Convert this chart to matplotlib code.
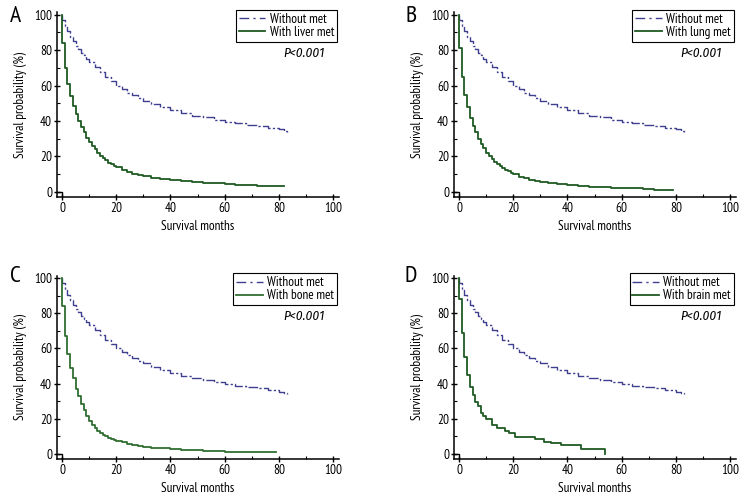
import matplotlib
matplotlib.use('Agg')
import matplotlib.pyplot as plt
from matplotlib.ticker import MultipleLocator
from matplotlib.lines import Line2D

plt.rcParams['font.family'] = ['PT Sans Narrow', 'Fira Sans Condensed', 'Cabin Condensed', 'DejaVu Sans']
italic_family = ['Fira Sans Condensed', 'Asap Condensed', 'Barlow Condensed', 'DejaVu Sans']

panel_labels = ['A', 'B', 'C', 'D']
met_labels = ['With liver met', 'With lung met', 'With bone met', 'With brain met']
ref_label = 'Without met'
p_text = 'P<0.001'
x_label = 'Survival months'
y_label = 'Survival probability (%)'
x_ticks = [0, 20, 40, 60, 80, 100]
y_ticks = [0, 20, 40, 60, 80, 100]

# "Without met" reference curve (months, survival %)
without_t = [0, 0, 1, 2, 3, 4, 5, 6, 7, 8, 9, 10, 12, 14, 16, 18, 20, 22, 24, 26, 28,
             30, 33, 36, 40, 44, 48, 52, 56, 60, 64, 68, 72, 76, 80, 82, 83]
without_s = [100, 97, 93.5, 90.5, 87.5, 85, 82.5, 80.5, 78.5, 77, 75, 73.5, 70.5, 67.5,
             65, 62.5, 60, 58, 56, 54.5, 53, 51.5, 49.5, 48, 46.2, 44.5, 43, 42, 40.7,
             39.5, 38.7, 38, 37.3, 36.3, 35.5, 34.5, 33.8]

# With metastasis curves
liver_t = [0, 0, 1, 2, 3, 4, 5, 6, 7, 8, 9, 10, 11, 12, 13, 14, 15, 16, 17, 18, 19, 20,
           22, 24, 26, 28, 30, 33, 36, 40, 44, 48, 52, 56, 60, 64, 68, 72, 76, 80, 82]
liver_s = [100, 84, 70, 61, 54, 48.5, 44, 40, 36.5, 33.5, 30.5, 28, 26, 24, 22, 20.5, 19,
           17.8, 16.5, 15.5, 14.6, 13.8, 12.5, 11.3, 10.3, 9.5, 8.8, 8, 7.3, 6.7, 6.1, 5.6,
           5.2, 4.8, 4.4, 4.1, 3.8, 3.5, 3.4, 3.3, 3.3]

lung_t = [0, 0, 1, 2, 3, 4, 5, 6, 7, 8, 9, 10, 11, 12, 13, 14, 15, 16, 17, 18, 19, 20,
          22, 24, 26, 28, 30, 33, 36, 40, 44, 48, 52, 56, 60, 64, 68, 72, 76, 79]
lung_s = [100, 81, 65, 54.5, 48, 41.5, 37, 33.5, 30, 27, 24.5, 22, 20, 18.5, 17, 15.5,
          14.5, 13.3, 12.3, 11.5, 10.7, 10, 8.6, 7.6, 6.8, 6, 5.4, 4.8, 4.2, 3.7, 3.3,
          2.9, 2.6, 2.3, 2.1, 1.9, 1.5, 1.1, 0.9, 0.8]

bone_t = [0, 0, 1, 2, 3, 4, 5, 6, 7, 8, 9, 10, 11, 12, 13, 14, 15, 16, 17, 18, 19, 20,
          22, 24, 26, 28, 30, 33, 36, 40, 44, 48, 52, 56, 60, 61, 79]
bone_s = [100, 84, 67, 57, 49, 43, 37, 33, 28.5, 25, 21.5, 19, 16.5, 14.5, 13, 12, 11,
          10, 9.2, 8.5, 8, 7.5, 6.6, 5.8, 5.1, 4.6, 4.1, 3.6, 3.2, 2.8, 2.5, 2.2, 1.9,
          1.6, 1.2, 0.9, 0.8]

brain_t = [0, 0, 1, 2, 3, 4, 5, 6, 7, 8, 9, 10, 12, 14, 17, 18.5, 20.5, 28, 31.5, 34,
           37.5, 45, 54, 54]
brain_s = [100, 88, 68.7, 55, 45, 38, 33.6, 29.8, 27, 23, 21.3, 19.7, 16.5, 14.6, 13.1,
           12.1, 9.8, 8.3, 7, 6.3, 5.1, 2.7, 2.7, 0]

met_t = [liver_t, lung_t, bone_t, brain_t]
met_s = [liver_s, lung_s, bone_s, brain_s]

ref_color = '#3f3f8f'
met_colors = ['#1e5a22', '#1e5a22', '#2f6e30', '#1e5a22']
ref_dash = (7, 1.6, 1.6, 1.6)
leg_dash = (7, 3, 1.6, 3)
xlim = (-1.85, 102.2)
ylim = (-2.9, 101.5)
fs = 9.5

W, H = 756, 504
fig = plt.figure(figsize=(W / 100, H / 100), dpi=100)

rects = [(57, 197, 185), (454, 197, 185), (57, 459, 183.5), (454, 459, 183.5)]
label_pos = [(15, 17), (411, 17), (15, 277), (411, 277)]

for i in range(4):
    lpx, bpx, hpx = rects[i]
    ax = fig.add_axes([lpx / W, (H - bpx) / H, 282 / W, hpx / H])
    ax.plot(without_t, without_s, drawstyle='steps-post', color=ref_color, lw=1.0,
            dashes=ref_dash, label=ref_label)
    ax.plot(met_t[i], met_s[i], drawstyle='steps-post', color=met_colors[i], lw=1.3,
            label=met_labels[i])
    ax.plot([xlim[0], 0, 0], [0, 0, ylim[0]], color='black', lw=1.0, clip_on=False)
    ax.set_xlim(*xlim)
    ax.set_ylim(*ylim)
    ax.set_xticks(x_ticks)
    ax.set_yticks(y_ticks)
    ax.xaxis.set_minor_locator(MultipleLocator(10))
    ax.yaxis.set_minor_locator(MultipleLocator(10))
    for s in ['top', 'right']:
        ax.spines[s].set_visible(False)
    for s in ['left', 'bottom']:
        ax.spines[s].set_linewidth(1.1)
    ax.tick_params(which='major', direction='inout', length=5, width=1, labelsize=fs, pad=1)
    ax.tick_params(which='minor', direction='in', length=2.5, width=0.8)
    ax.set_xlabel(x_label, fontsize=fs, labelpad=4)
    ax.set_ylabel(y_label, fontsize=fs, labelpad=5)
    ax.text(97, 78, p_text, fontsize=fs, style='italic', fontweight='normal',
            ha='right', va='center', family=italic_family)
    handles = [Line2D([], [], color=ref_color, lw=1.0, dashes=leg_dash),
               Line2D([], [], color=met_colors[i], lw=1.3)]
    leg = ax.legend(handles, [ref_label, met_labels[i]], loc='upper right',
                    bbox_to_anchor=(0.993, 1.012), fontsize=fs, frameon=True,
                    fancybox=False, edgecolor='black', framealpha=1, handlelength=2.0,
                    borderpad=0.22, labelspacing=0.0, handletextpad=0.35, borderaxespad=0)
    leg.get_frame().set_linewidth(0.8)
    fx, fy = label_pos[i]
    fig.text(fx / W, 1 - fy / H, panel_labels[i], fontsize=17, ha='center', va='center')

fig.savefig('out.png', dpi=100)
